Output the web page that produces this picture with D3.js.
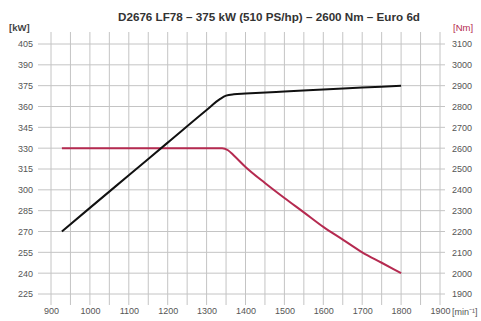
<!DOCTYPE html>
<html>
<head>
<meta charset="utf-8">
<script src="https://cdn.jsdelivr.net/npm/d3@7"></script>
<style>
  body { margin: 0; background: #fff; }
  svg { display: block; font-family: "Liberation Sans", Arial, sans-serif; }
  .tick text { fill: #555; font-size: 9px; }
  .axis path { display: none; }
</style>
</head>
<body>
<div id="chart"><svg></svg></div>
<script>
// engine curves
const title = "D2676 LF78 – 375 kW (510 PS/hp) – 2600 Nm – Euro 6d";
const rpmTicks = [900, 1000, 1100, 1200, 1300, 1400, 1500, 1600, 1700, 1800, 1900];
const rpmGrid = d3.range(900, 1901, 50);
const kwTicks = [225, 240, 255, 270, 285, 300, 315, 330, 345, 360, 375, 390, 405];
const nmTicks = [1900, 2000, 2100, 2200, 2300, 2400, 2500, 2600, 2700, 2800, 2900, 3000, 3100];

const powerRpm = [928, 1000, 1100, 1200, 1300, 1335, 1350, 1370, 1400, 1500, 1600, 1700, 1800];
const powerKw = [270, 287, 310.5, 334, 357.5, 365.5, 367.8, 368.8, 369.3, 370.8, 372.2, 373.6, 375];

const torqueRpm = [928, 1340, 1355, 1370, 1400, 1450, 1500, 1550, 1600, 1650, 1700, 1750, 1800];
const torqueNm = [2600, 2600, 2590, 2565, 2510, 2433, 2361, 2292, 2222, 2161, 2100, 2050, 2000];

const config = {
  width: 481, height: 321,
  plotLeft: 51, plotRight: 440, plotTop: 44, plotBottom: 294,
  gridLeft: 38, gridRight: 445, gridTop: 32, gridBottom: 305
};
const red = "#b52a50";

const svg = d3.select("#chart svg")
    .attr("width", config.width)
    .attr("height", config.height);

const x = d3.scaleLinear().domain([900, 1900]).range([config.plotLeft, config.plotRight]);
const yKw = d3.scaleLinear().domain([225, 405]).range([config.plotBottom, config.plotTop]);
const yNm = d3.scaleLinear().domain([1900, 3100]).range([config.plotBottom, config.plotTop]);

// grid
svg.append("g").selectAll("line")
    .data(rpmGrid)
  .join("line")
    .attr("x1", d => x(d)).attr("x2", d => x(d))
    .attr("y1", config.gridTop).attr("y2", config.gridBottom)
    .attr("stroke", "#c4c4c4").attr("stroke-width", 1);

svg.append("g").selectAll("line")
    .data(kwTicks)
  .join("line")
    .attr("x1", config.gridLeft).attr("x2", config.gridRight)
    .attr("y1", d => yKw(d)).attr("y2", d => yKw(d))
    .attr("stroke", "#c4c4c4").attr("stroke-width", 1);

// axes (labels only)
svg.append("g")
    .attr("class", "axis")
    .attr("transform", `translate(33,0)`)
    .call(d3.axisLeft(yKw).tickValues(kwTicks).tickSize(0).tickPadding(0));

svg.append("g")
    .attr("class", "axis nm")
    .attr("transform", `translate(452,0)`)
    .call(d3.axisRight(yNm).tickValues(nmTicks).tickFormat(d3.format("d")).tickSize(0).tickPadding(0))
    .selectAll("text").attr("fill", "#c0506f");

svg.append("g")
    .attr("class", "axis")
    .attr("transform", `translate(0,305)`)
    .call(d3.axisBottom(x).tickValues(rpmTicks).tickFormat(d3.format("d")).tickSize(0).tickPadding(3));

// units + title
svg.append("text").attr("x", 9).attr("y", 31)
    .attr("font-size", 9.5).attr("font-weight", "bold").attr("fill", "#444").text("[kW]");
svg.append("text").attr("x", 453).attr("y", 31)
    .attr("font-size", 9.5).attr("fill", red).text("[Nm]");
svg.append("text").attr("x", 452).attr("y", 315)
    .attr("font-size", 9).attr("fill", "#555").text("[min⁻¹]");
svg.append("text").attr("x", 269).attr("y", 21)
    .attr("text-anchor", "middle")
    .attr("font-size", 11.5).attr("font-weight", "bold").attr("fill", "#333")
    .attr("textLength", 302).attr("lengthAdjust", "spacingAndGlyphs")
    .text(title);

// curves
const torqueLine = d3.line()
    .x((d, i) => x(torqueRpm[i]))
    .y(d => yNm(d))
    .curve(d3.curveMonotoneX);

const powerLine = d3.line()
    .x((d, i) => x(powerRpm[i]))
    .y(d => yKw(d))
    .curve(d3.curveMonotoneX);

svg.append("path")
    .attr("d", torqueLine(torqueNm))
    .attr("fill", "none").attr("stroke", red).attr("stroke-width", 2);

svg.append("path")
    .attr("d", powerLine(powerKw))
    .attr("fill", "none").attr("stroke", "#111").attr("stroke-width", 2);
</script>
</body>
</html>
